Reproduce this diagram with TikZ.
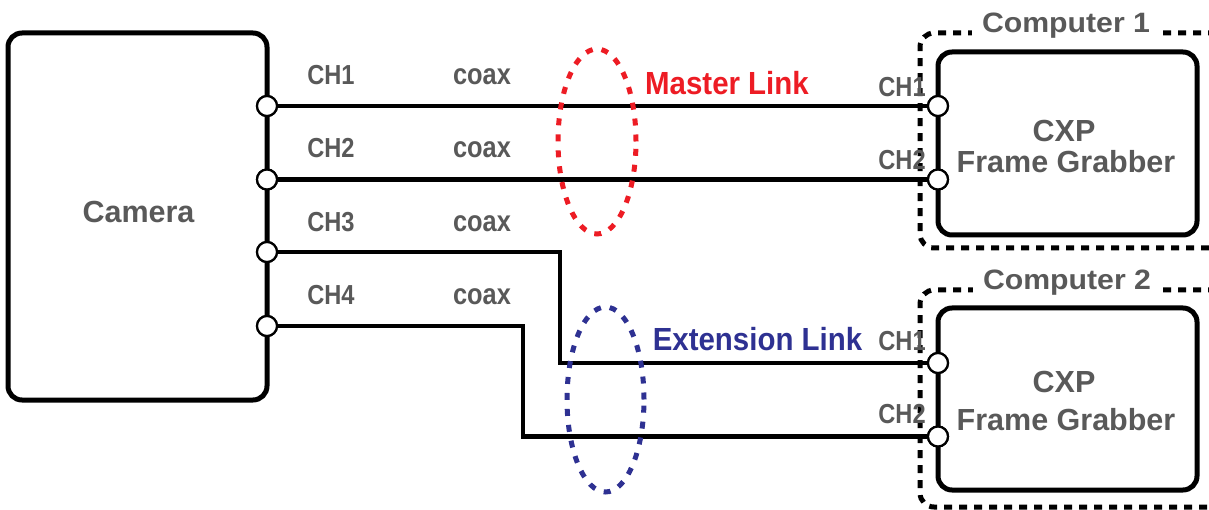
\documentclass[tikz,border=0pt]{standalone}
\usepackage{fontspec}
\setmainfont{Liberation Sans}
\newfontfamily\chfont[FakeStretch=0.86]{Liberation Sans}
\newfontfamily\linkfont[FakeStretch=0.92]{Liberation Sans}
\newfontfamily\compfont[FakeStretch=1.08]{Liberation Sans}
\usetikzlibrary{shapes.geometric}
\definecolor{txtgray}{RGB}{89,89,89}
\definecolor{mred}{RGB}{237,28,36}
\definecolor{eblue}{RGB}{46,49,146}
\begin{document}
\begin{tikzpicture}[x=1pt,y=-1pt,
  box/.style={draw=black, line width=5pt, rounded corners=14pt, fill=white, inner sep=0pt, rectangle},
  compbox/.style={draw=black, line width=5pt, dash pattern=on 8pt off 7pt, rounded corners=14pt, rectangle, inner sep=0pt},
  cable/.style={line width=4.5pt, draw=black},
  port/.style={circle, draw=black, line width=2.2pt, fill=white, minimum size=20pt, inner sep=0pt},
  chlabel/.style={text=txtgray, font=\chfont\bfseries\fontsize{27.5}{30}\selectfont, anchor=base, inner sep=0pt},
  coaxlabel/.style={text=txtgray, font=\chfont\bfseries\fontsize{29.5}{32}\selectfont, anchor=base, inner sep=0pt},
  biglabel/.style={text=txtgray, font=\bfseries\fontsize{30.5}{34}\selectfont, anchor=base, inner sep=0pt},
  complabel/.style={text=txtgray, font=\compfont\bfseries\fontsize{28}{31}\selectfont, anchor=base, fill=white, inner xsep=10pt, inner ysep=3pt},
  linklabel/.style={font=\linkfont\bfseries\fontsize{32}{35}\selectfont, anchor=base, inner sep=0pt},
  linkring/.style={ellipse, line width=5pt, dash pattern=on 7pt off 9pt, inner sep=0pt}
]
\useasboundingbox (0,0) rectangle (1209,510);
\clip (0,0) rectangle (1209,510);

% computer groups
\node[compbox, minimum width=310pt, minimum height=215pt] (comp1) at (1075,140.5) {};
\node[compbox, minimum width=310pt, minimum height=217pt] (comp2) at (1075,398.5) {};
\node[complabel] (comp1lbl) at (1066,33) {Computer 1};
\node[complabel] (comp2lbl) at (1067,290) {Computer 2};

% boxes
\node[box, minimum width=259pt, minimum height=367pt] (cam) at (137.5,216.5) {};
\node[box, minimum width=259pt, minimum height=183pt] (fg1) at (1067.5,143.5) {};
\node[box, minimum width=259pt, minimum height=182pt] (fg2) at (1067.5,399) {};

\node[biglabel] (camlbl) at (138.5,223) {Camera};
\node[biglabel] (fg1a) at (1064,142) {CXP};
\node[biglabel] (fg1b) at (1066,173) {Frame Grabber};
\node[biglabel] (fg2a) at (1064,392) {CXP};
\node[biglabel] (fg2b) at (1066,430) {Frame Grabber};

% ports
\node[port] (cp1) at (267,106) {};
\node[port] (cp2) at (267,179.5) {};
\node[port] (cp3) at (267,252) {};
\node[port] (cp4) at (267,326) {};
\node[port] (fa1) at (938,106) {};
\node[port] (fa2) at (938,179.5) {};
\node[port] (fb1) at (938,363) {};
\node[port] (fb2) at (938,436.5) {};

\coordinate (k3) at (560,252);
\coordinate (k4) at (523,326);

% cables
\draw[cable] (cp1) -- (fa1);
\draw[cable] (cp2) -- (fa2);
\draw[cable] (cp3) -- (k3) |- (fb1);
\draw[cable] (cp4) -- (k4) |- (fb2);

% redraw ports on top
\node[port] at (cp1) {};
\node[port] at (cp2) {};
\node[port] at (cp3) {};
\node[port] at (cp4) {};
\node[port] at (fa1) {};
\node[port] at (fa2) {};
\node[port] at (fb1) {};
\node[port] at (fb2) {};

% link rings
\node[linkring, draw=mred, minimum width=78pt, minimum height=185pt] (master) at (597,141.5) {};
\node[linkring, draw=eblue, minimum width=77pt, minimum height=185pt] (ext) at (605.5,399.5) {};
\node[linklabel, text=mred] (masterlbl) at (727,95) {Master Link};
\node[linklabel, text=eblue] (extlbl) at (757.5,350) {Extension Link};

% channel labels (camera side)
\node[chlabel] (l1) at (331,85) {CH1};
\node[chlabel] (l2) at (331,158) {CH2};
\node[chlabel] (l3) at (331,232) {CH3};
\node[chlabel] (l4) at (331,305) {CH4};
\node[coaxlabel] (x1) at (482,85) {coax};
\node[coaxlabel] (x2) at (482,158) {coax};
\node[coaxlabel] (x3) at (482,232) {coax};
\node[coaxlabel] (x4) at (482,305) {coax};

% channel labels (grabber side)
\node[chlabel] (r1) at (902,97) {CH1};
\node[chlabel] (r2) at (902,170) {CH2};
\node[chlabel] (r3) at (902,350) {CH1};
\node[chlabel] (r4) at (902,423) {CH2};
\end{tikzpicture}
\end{document}
